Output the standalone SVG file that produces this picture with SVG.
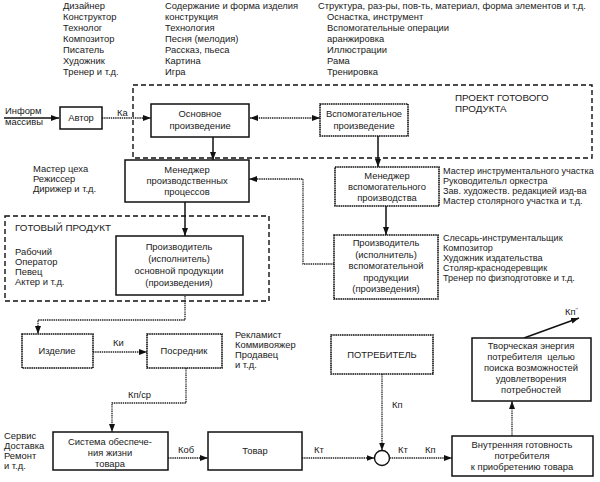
<svg xmlns="http://www.w3.org/2000/svg" width="600" height="482" viewBox="0 0 600 482">
<defs>
<marker id="ah" markerWidth="8" markerHeight="6" refX="8" refY="3" orient="auto-start-reverse" markerUnits="userSpaceOnUse"><path d="M0,0 L8,3 L0,6 z" fill="#111"/></marker>
<style>
text{font-family:"Liberation Sans",Arial,sans-serif;font-size:9.4px;fill:#1a1a1a}
.c{text-anchor:middle}
.s{font-size:9.1px}
.big{font-size:9.8px}
.box{fill:#fff;stroke:#111;stroke-width:1.5}
.dbox{fill:#fff;stroke:#111;stroke-width:1.6;stroke-dasharray:1.6 0.6}
.dash{fill:none;stroke:#111;stroke-width:1.4;stroke-dasharray:5 3}
.ln{fill:none;stroke:#111;stroke-width:1.5;marker-end:url(#ah)}
.dl{fill:none;stroke:#222;stroke-width:1.3;stroke-dasharray:1.4 0.8;marker-end:url(#ah)}
</style>
</defs>
<rect width="600" height="482" fill="#fff"/>

<g id="top-lists">
<text x="63" y="9">Дизайнер</text>
<text x="63" y="20">Конструктор</text>
<text x="63" y="31">Технолог</text>
<text x="63" y="42">Композитор</text>
<text x="63" y="53">Писатель</text>
<text x="63" y="64">Художник</text>
<text x="63" y="75">Тренер и т.д.</text>
<text x="165" y="9">Содержание и форма изделия</text>
<text x="165" y="20">конструкция</text>
<text x="165" y="31">Технология</text>
<text x="165" y="42">Песня (мелодия)</text>
<text x="165" y="53">Рассказ, пьеса</text>
<text x="165" y="64">Картина</text>
<text x="165" y="75">Игра</text>
<text x="318" y="9">Структура, раз-ры, пов-ть, материал, форма элементов и т.д.</text>
<text x="327" y="20">Оснастка, инструмент</text>
<text x="327" y="31">Вспомогательные операции</text>
<text x="327" y="42">аранжировка</text>
<text x="327" y="53">Иллюстрации</text>
<text x="327" y="64">Рама</text>
<text x="327" y="75">Тренировка</text>
</g>

<g id="groups">
<rect class="dash" x="133" y="85" width="459" height="73"/>
<text x="455" y="101" class="big">ПРОЕКТ ГОТОВОГО</text>
<text x="455" y="112" class="big">ПРОДУКТА</text>
<rect class="dash" x="5" y="216" width="264" height="85"/>
<text x="15" y="231" class="big">ГОТОВЫЙ ПРОДУКТ</text>
</g>

<g id="side-lists">
<text x="5" y="114">Информ</text>
<text x="5" y="125">массивы</text>
<text x="33" y="172">Мастер цеха</text>
<text x="33" y="182">Режиссер</text>
<text x="33" y="192">Дирижер и т.д.</text>
<text class="s" x="443" y="174">Мастер инструментального участка</text>
<text class="s" x="443" y="184">Руководительл оркестра</text>
<text class="s" x="443" y="194">Зав. художеств. редакцией изд-ва</text>
<text class="s" x="443" y="204">Мастер столярного участка и т.д.</text>
<text x="15" y="255">Рабочий</text>
<text x="15" y="265">Оператор</text>
<text x="15" y="275">Певец</text>
<text x="15" y="285">Актер и т.д.</text>
<text class="s" x="443" y="241">Слесарь-инструментальщик</text>
<text class="s" x="443" y="251">Композитор</text>
<text class="s" x="443" y="261">Художник издательства</text>
<text class="s" x="443" y="271">Столяр-краснодеревщик</text>
<text class="s" x="443" y="281">Тренер по физподготовке и т.д.</text>
<text x="235" y="338">Рекламист</text>
<text x="235" y="348">Коммивояжер</text>
<text x="235" y="358">Продавец</text>
<text x="235" y="368">и т.д.</text>
<text x="4" y="439">Сервис</text>
<text x="4" y="449">Доставка</text>
<text x="4" y="459">Ремонт</text>
<text x="4" y="469">и т.д.</text>
</g>

<g id="connectors">
<line class="ln" x1="4" y1="118" x2="59" y2="118"/>
<line class="dl" x1="102" y1="118" x2="151" y2="118"/>
<line class="dl" x1="250" y1="118" x2="320" y2="118" style="marker-start:url(#ah)"/>
<line class="ln" x1="213" y1="137" x2="213" y2="160"/>
<line class="ln" x1="378" y1="136" x2="378" y2="167"/>
<polyline class="dl" points="334,264 303,264 303,179 249,179"/>
<line class="ln" x1="185" y1="202" x2="185" y2="236"/>
<line class="ln" x1="386" y1="206" x2="386" y2="235"/>
<polyline class="dl" points="185,296 185,320 38,320 38,334"/>
<line class="dl" x1="93" y1="352" x2="147" y2="352"/>
<polyline class="dl" points="186,368 186,403 112,403 112,432"/>
<line class="dl" x1="168" y1="458" x2="208" y2="458"/>
<line class="dl" x1="302" y1="458" x2="374.5" y2="458"/>
<line class="dl" x1="382" y1="374" x2="382" y2="450.5"/>
<line class="dl" x1="389.5" y1="458" x2="452" y2="458"/>
<line class="dl" x1="512" y1="436" x2="512" y2="401"/>
<line class="ln" x1="524" y1="338" x2="579" y2="318"/>
<circle cx="382" cy="458" r="7.5" fill="#fff" stroke="#111" stroke-width="1.4"/>
<text x="117" y="116">Ка</text>
<text x="113" y="346">Ки</text>
<text x="128" y="398">Кп/ср</text>
<text x="178" y="453">Коб</text>
<text x="314" y="453">Кт</text>
<text x="392" y="408">Кп</text>
<text x="398" y="453">Кт</text>
<text x="425" y="453">Кп</text>
<text x="565" y="315">Кп<tspan font-size="6" dy="-3">''</tspan></text>
</g>

<g id="n-avtor"><rect class="box" x="60" y="107" width="42" height="22"/><text class="c" x="81" y="121">Автор</text></g>
<g id="n-osnovnoe"><rect class="box" x="151" y="104" width="98" height="33"/><text class="c" x="200" y="117">Основное</text><text class="c" x="200" y="129">произведение</text></g>
<g id="n-vspom"><rect class="dbox" x="320" y="104" width="88" height="32"/><text class="c" x="364" y="117">Вспомогательное</text><text class="c" x="364" y="129">произведение</text></g>
<g id="n-menedzher-pr"><rect class="box" x="125" y="160" width="124" height="42"/><text class="c" x="187" y="173">Менеджер</text><text class="c" x="187" y="184">производственных</text><text class="c" x="187" y="195">процессов</text></g>
<g id="n-menedzher-vsp"><rect class="dbox" x="335" y="167" width="104" height="39"/><text class="c" x="387" y="179">Менеджер</text><text class="c" x="387" y="190">вспомогательного</text><text class="c" x="387" y="201">производства</text></g>
<g id="n-proizv-osn"><rect class="box" x="116" y="236" width="127" height="59"/><text class="c" x="179" y="250">Производитель</text><text class="c" x="179" y="262">(исполнитель)</text><text class="c" x="179" y="274">основной продукции</text><text class="c" x="179" y="286">(произведения)</text></g>
<g id="n-proizv-vsp"><rect class="dbox" x="334" y="235" width="104" height="64"/><text class="c" x="386" y="246">Производитель</text><text class="c" x="386" y="257.5">(исполнитель)</text><text class="c" x="386" y="269">вспомогательной</text><text class="c" x="386" y="280.5">продукции</text><text class="c" x="386" y="292">(произведения)</text></g>
<g id="n-izdelie"><rect class="dbox" x="22" y="334" width="71" height="34"/><text class="c" x="57" y="354">Изделие</text></g>
<g id="n-posrednik"><rect class="dbox" x="147" y="334" width="75" height="34"/><text class="c" x="184" y="354">Посредник</text></g>
<g id="n-sistema"><rect class="box" x="53" y="432" width="115" height="38"/><text class="c" x="110" y="445">Система обеспече-</text><text class="c" x="110" y="456">ния жизни</text><text class="c" x="110" y="467">товара</text></g>
<g id="n-tovar"><rect class="box" x="208" y="432" width="94" height="38"/><text class="c" x="255" y="454">Товар</text></g>
<g id="n-potrebitel"><rect class="dbox" x="331" y="335" width="102" height="39"/><text class="c" x="382" y="358">ПОТРЕБИТЕЛЬ</text></g>
<g id="n-tvorch"><rect class="box" x="472" y="338" width="119" height="63"/><text class="c" x="531" y="349">Творческая энергия</text><text class="c" x="531" y="360" xml:space="preserve">потребителя  целью</text><text class="c" x="531" y="371">поиска возможностей</text><text class="c" x="531" y="382">удовлетворения</text><text class="c" x="531" y="393">потребностей</text></g>
<g id="n-vnutr"><rect class="box" x="452" y="436" width="141" height="40"/><text class="c" x="522" y="448">Внутренняя готовность</text><text class="c" x="522" y="459">потребителя</text><text class="c" x="522" y="470">к приобретению товара</text></g>
</svg>
